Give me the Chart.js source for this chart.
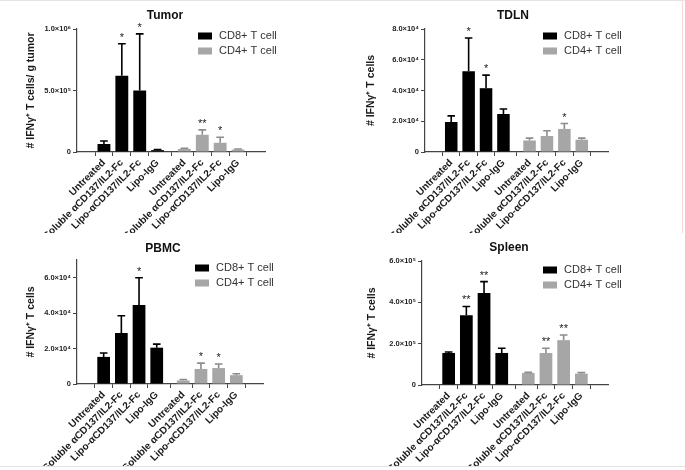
<!DOCTYPE html>
<html>
<head>
<meta charset="utf-8">
<script src="https://cdn.jsdelivr.net/npm/chart.js@4.4.1/dist/chart.umd.min.js"></script>
<style>
  html, body { margin: 0; padding: 0; background: #fff; }
  #wrap { position: relative; width: 685px; height: 470px; overflow: hidden;
          border-top: 1px solid #e4e4e4; box-sizing: border-box; }
  #wrap canvas { position: absolute; }
  .sep-bottom { position: absolute; left: 0; top: 465px; width: 685px; height: 1px; background: #e2e2e2; }
  .sep-right { position: absolute; left: 682px; top: 0; width: 1px; height: 232px; background: #f6d8d8; }
</style>
</head>
<body>
<div id="wrap">
  <canvas id="tumor"></canvas>
  <canvas id="tdln"></canvas>
  <canvas id="pbmc"></canvas>
  <canvas id="spleen"></canvas>
  <div class="sep-bottom"></div>
  <div class="sep-right"></div>
</div>
<script>
// treatment groups, repeated for CD8 and CD4
const groups = ['Untreated', 'Soluble αCD137/IL2-Fc', 'Lipo-αCD137/IL2-Fc', 'Lipo-IgG'];
const xLabels = groups.concat(groups);
const cd8Pos = [0, 1, 2, 3];
const cd4Pos = [4.5, 5.5, 6.5, 7.5];

// Tumor (units of 10^5)
const tumorCD8 = [0.65, 6.2, 5.0, 0.15];
const tumorCD8Err = [0.25, 2.6, 4.6, 0.05];
const tumorCD4 = [0.25, 1.4, 0.75, 0.2];
const tumorCD4Err = [0.05, 0.4, 0.45, 0.05];
const tumorCD8Stars = ['', '*', '*', ''];
const tumorCD4Stars = ['', '**', '*', ''];
const tumorTicks = [0, 5, 10];
const tumorTickLabels = ['0', '5.0×10⁵', '1.0×10⁶'];

// TDLN (units of 10^4)
const tdlnCD8 = [1.95, 5.26, 4.15, 2.47];
const tdlnCD8Err = [0.4, 2.15, 0.85, 0.33];
const tdlnCD4 = [0.75, 1.04, 1.5, 0.8];
const tdlnCD4Err = [0.15, 0.34, 0.35, 0.1];
const tdlnCD8Stars = ['', '*', '*', ''];
const tdlnCD4Stars = ['', '', '*', ''];
const tdlnTicks = [0, 2, 4, 6, 8];
const tdlnTickLabels = ['0', '2.0×10⁴', '4.0×10⁴', '6.0×10⁴', '8.0×10⁴'];

// PBMC (units of 10^4)
const pbmcCD8 = [1.53, 2.88, 4.46, 2.05];
const pbmcCD8Err = [0.22, 0.97, 1.54, 0.2];
const pbmcCD4 = [0.2, 0.85, 0.9, 0.5];
const pbmcCD4Err = [0.05, 0.33, 0.23, 0.08];
const pbmcCD8Stars = ['', '', '*', ''];
const pbmcCD4Stars = ['', '*', '*', ''];
const pbmcTicks = [0, 2, 4, 6];
const pbmcTickLabels = ['0', '2.0×10⁴', '4.0×10⁴', '6.0×10⁴'];

// Spleen (units of 10^5)
const spleenCD8 = [1.55, 3.38, 4.45, 1.55];
const spleenCD8Err = [0.05, 0.42, 0.55, 0.23];
const spleenCD4 = [0.58, 1.55, 2.17, 0.55];
const spleenCD4Err = [0.03, 0.23, 0.25, 0.05];
const spleenCD8Stars = ['', '**', '**', ''];
const spleenCD4Stars = ['', '**', '**', ''];
const spleenTicks = [0, 2, 4, 6];
const spleenTickLabels = ['0', '2.0×10⁵', '4.0×10⁵', '6.0×10⁵'];

const FONT = '"Liberation Sans", Arial, sans-serif';
const CD8_COLOR = '#000000';
const CD4_COLOR = '#a6a6a6';

// draws title, legend, error bars and significance stars
const extras = {
    id: 'extras',
    afterDatasetsDraw(chart, args, opts) {
        const ctx = chart.ctx;
        const yScale = chart.scales.y;
        ctx.save();
        chart.data.datasets.forEach(function (ds, di) {
            const meta = chart.getDatasetMeta(di);
            meta.data.forEach(function (bar, i) {
                const top = yScale.getPixelForValue(ds.data[i].y + ds.err[i]);
                const half = bar.width * 0.3;
                ctx.strokeStyle = ds.errColor;
                ctx.lineWidth = 1.6;
                ctx.beginPath();
                ctx.moveTo(bar.x, bar.y);
                ctx.lineTo(bar.x, top);
                ctx.moveTo(bar.x - half, top);
                ctx.lineTo(bar.x + half, top);
                ctx.stroke();
                if (ds.stars[i]) {
                    ctx.fillStyle = '#222';
                    ctx.font = '11px ' + FONT;
                    ctx.textAlign = 'center';
                    ctx.textBaseline = 'alphabetic';
                    ctx.fillText(ds.stars[i], bar.x, top - 3);
                }
            });
        });
        ctx.restore();
    },
    afterDraw(chart, args, opts) {
        const ctx = chart.ctx;
        ctx.save();
        ctx.fillStyle = '#111';
        ctx.font = 'bold 12px ' + FONT;
        ctx.textAlign = 'center';
        ctx.textBaseline = 'middle';
        ctx.fillText(opts.title, opts.titleX, opts.titleY);

        ctx.font = '11px ' + FONT;
        ctx.textAlign = 'left';
        chart.data.datasets.forEach(function (ds, di) {
            const y = opts.legendY + di * 15;
            ctx.fillStyle = ds.backgroundColor;
            ctx.fillRect(opts.legendX, y - 3.5, 14, 7);
            ctx.fillStyle = '#333';
            ctx.fillText(ds.label, opts.legendX + 21, y);
        });
        ctx.restore();
    }
};

function makePanel(p) {
    const el = document.getElementById(p.id);
    el.width = p.w;
    el.height = p.h;
    el.style.left = p.x + 'px';
    el.style.top = p.y + 'px';

    const datasets = [
        {
            label: 'CD8+ T cell',
            data: cd8Pos.map(function (x, i) { return { x: x, y: p.cd8[i] }; }),
            err: p.cd8Err,
            stars: p.cd8Stars,
            backgroundColor: CD8_COLOR,
            errColor: '#000',
        },
        {
            label: 'CD4+ T cell',
            data: cd4Pos.map(function (x, i) { return { x: x, y: p.cd4[i] }; }),
            err: p.cd4Err,
            stars: p.cd4Stars,
            backgroundColor: CD4_COLOR,
            errColor: '#8c8c8c',
        },
    ];

    new Chart(el, {
        type: 'bar',
        data: { datasets },
        options: {
            responsive: false,
            animation: false,
            layout: { padding: { left: 0, right: p.w - p.right, top: p.top, bottom: 0 } },
            datasets: { bar: { grouped: false, barPercentage: 0.72, categoryPercentage: 1 } },
            plugins: {
                legend: { display: false },
                tooltip: { enabled: false },
                extras: {
                    title: p.title, titleX: p.titleX, titleY: p.titleY,
                    legendX: p.legendX, legendY: p.legendY,
                },
            },
            scales: {
                x: {
                    type: 'linear',
                    min: -0.85,
                    max: 8.35,
                    afterBuildTicks(scale) {
                        scale.ticks = cd8Pos.concat(cd4Pos).map(function (v) { return { value: v }; });
                    },
                    afterFit(scale) {
                        scale.height = p.h - p.bottom;
                        scale.paddingLeft = 0;
                        scale.paddingRight = 0;
                    },
                    border: { display: true, color: '#444', width: 1.2 },
                    grid: { display: true, drawOnChartArea: false, drawTicks: true, tickLength: 4, color: '#444' },
                    ticks: {
                        autoSkip: false,
                        minRotation: 45,
                        maxRotation: 45,
                        padding: 1,
                        color: '#1a1a1a',
                        font: { family: FONT, size: 10, weight: 'bold' },
                        callback: function (v, i) { return xLabels[i]; },
                    },
                },
                y: {
                    min: 0,
                    max: p.yMax,
                    afterBuildTicks(scale) {
                        scale.ticks = p.ticks.map(function (v) { return { value: v }; });
                    },
                    afterFit(scale) {
                        scale.width = p.left;
                        scale.paddingTop = 0;
                        scale.paddingBottom = 0;
                    },
                    border: { display: true, color: '#444', width: 1.2 },
                    grid: { display: true, drawOnChartArea: false, drawTicks: true, tickLength: 4, color: '#444' },
                    ticks: {
                        padding: 2,
                        color: '#222',
                        font: { family: FONT, size: 7.5, weight: 'bold' },
                        callback: function (v, i) { return p.tickLabels[i]; },
                    },
                    title: {
                        display: true,
                        text: p.yTitle,
                        color: '#1a1a1a',
                        padding: { top: p.yTitlePad, bottom: 0 },
                        font: { family: FONT, size: 10.5, weight: 'bold' },
                    },
                },
            },
        },
        plugins: [extras],
    });
}

makePanel({
    id: 'tumor', x: 0, y: 0, w: 340, h: 232,
    left: 77, right: 265, top: 28, bottom: 151,
    title: 'Tumor', titleX: 165, titleY: 15, legendX: 198, legendY: 35,
    yTitle: '# IFNγ⁺ T cells/ g tumor', yTitlePad: 25,
    cd8: tumorCD8, cd8Err: tumorCD8Err, cd8Stars: tumorCD8Stars,
    cd4: tumorCD4, cd4Err: tumorCD4Err, cd4Stars: tumorCD4Stars,
    yMax: 10, ticks: tumorTicks, tickLabels: tumorTickLabels,
});

makePanel({
    id: 'tdln', x: 340, y: 0, w: 345, h: 232,
    left: 85, right: 268, top: 28, bottom: 151,
    title: 'TDLN', titleX: 173, titleY: 15, legendX: 203, legendY: 35,
    yTitle: '# IFNγ⁺ T cells', yTitlePad: 25,
    cd8: tdlnCD8, cd8Err: tdlnCD8Err, cd8Stars: tdlnCD8Stars,
    cd4: tdlnCD4, cd4Err: tdlnCD4Err, cd4Stars: tdlnCD4Stars,
    yMax: 8, ticks: tdlnTicks, tickLabels: tdlnTickLabels,
});

makePanel({
    id: 'pbmc', x: 0, y: 232, w: 340, h: 234,
    left: 77, right: 263, top: 27, bottom: 151,
    title: 'PBMC', titleX: 163, titleY: 16, legendX: 195, legendY: 35,
    yTitle: '# IFNγ⁺ T cells', yTitlePad: 25,
    cd8: pbmcCD8, cd8Err: pbmcCD8Err, cd8Stars: pbmcCD8Stars,
    cd4: pbmcCD4, cd4Err: pbmcCD4Err, cd4Stars: pbmcCD4Stars,
    yMax: 7, ticks: pbmcTicks, tickLabels: pbmcTickLabels,
});

makePanel({
    id: 'spleen', x: 340, y: 232, w: 345, h: 234,
    left: 82, right: 268, top: 28, bottom: 152,
    title: 'Spleen', titleX: 169, titleY: 15, legendX: 203, legendY: 37,
    yTitle: '# IFNγ⁺ T cells', yTitlePad: 26,
    cd8: spleenCD8, cd8Err: spleenCD8Err, cd8Stars: spleenCD8Stars,
    cd4: spleenCD4, cd4Err: spleenCD4Err, cd4Stars: spleenCD4Stars,
    yMax: 6, ticks: spleenTicks, tickLabels: spleenTickLabels,
});
</script>
</body>
</html>
